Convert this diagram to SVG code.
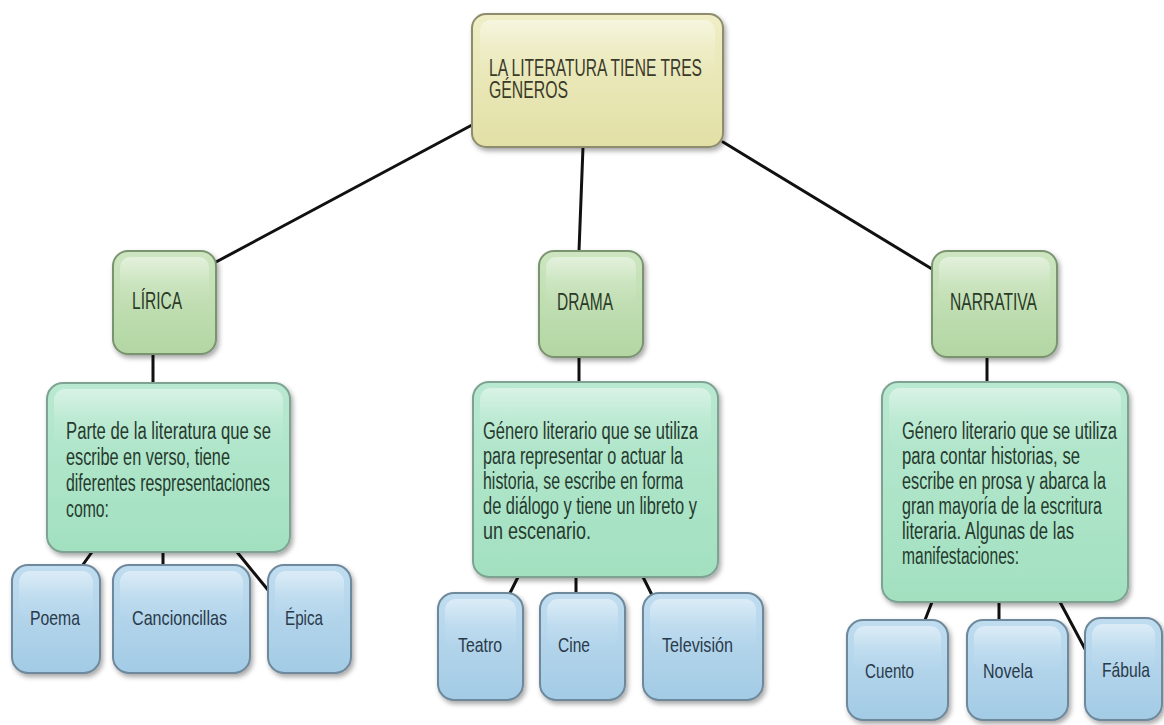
<svg xmlns="http://www.w3.org/2000/svg" width="1164" height="725" viewBox="0 0 1164 725">
<defs>
<filter id="sh" x="-10%" y="-10%" width="125%" height="125%">
<feDropShadow dx="2" dy="3" stdDeviation="2.5" flood-color="#000" flood-opacity="0.35"/>
</filter>
<linearGradient id="gTop" x1="0" y1="0" x2="0" y2="1"><stop offset="0" stop-color="#efeec6"/><stop offset="1" stop-color="#e2e0a6"/></linearGradient>
<linearGradient id="gL2" x1="0" y1="0" x2="0" y2="1"><stop offset="0" stop-color="#cde6c1"/><stop offset="1" stop-color="#b3d6a3"/></linearGradient>
<linearGradient id="gDesc" x1="0" y1="0" x2="0" y2="1"><stop offset="0" stop-color="#b9e9d1"/><stop offset="1" stop-color="#a2e0c0"/></linearGradient>
<linearGradient id="gLeaf" x1="0" y1="0" x2="0" y2="1"><stop offset="0" stop-color="#c0ddf0"/><stop offset="1" stop-color="#a3cbe5"/></linearGradient>
<linearGradient id="hl" x1="0" y1="0" x2="0" y2="1"><stop offset="0" stop-color="#fff" stop-opacity="0.45"/><stop offset="0.5" stop-color="#fff" stop-opacity="0.12"/><stop offset="1" stop-color="#fff" stop-opacity="0"/></linearGradient>
</defs>
<style>
.top{fill:url(#gTop);stroke:#8e8c6c;stroke-width:2;filter:url(#sh)}
.l2{fill:url(#gL2);stroke:#7a9470;stroke-width:2;filter:url(#sh)}
.desc{fill:url(#gDesc);stroke:#7ea392;stroke-width:2;filter:url(#sh)}
.leaf{fill:url(#gLeaf);stroke:#6e889c;stroke-width:2;filter:url(#sh)}
.hl{fill:url(#hl);stroke:none}
text{font-family:"Liberation Sans Narrow","Liberation Sans",Arial,sans-serif}
.tt{font-size:23px;fill:#3a3a2a}
.t2{font-size:24px;fill:#2a3a28}
.td{font-size:23px;fill:#263a2e}
.tl{font-size:21px;fill:#2a3a4a}
.c{stroke:#111;stroke-width:3;fill:none;stroke-linecap:round}
</style>
<g id="connectors">
<line class="c" x1="472" y1="125" x2="216" y2="262"/>
<line class="c" x1="583" y1="147" x2="579" y2="251"/>
<line class="c" x1="723" y1="142" x2="932" y2="269"/>
<line class="c" x1="153" y1="354" x2="153" y2="383"/>
<line class="c" x1="579" y1="356" x2="579" y2="382"/>
<line class="c" x1="987" y1="356" x2="987" y2="382"/>
<line class="c" x1="92" y1="552" x2="82" y2="566"/>
<line class="c" x1="163" y1="552" x2="163" y2="566"/>
<line class="c" x1="237" y1="552" x2="268" y2="590"/>
<line class="c" x1="518" y1="577" x2="510" y2="593"/>
<line class="c" x1="576" y1="577" x2="576" y2="593"/>
<line class="c" x1="643" y1="577" x2="652" y2="595"/>
<line class="c" x1="932" y1="602" x2="925" y2="620"/>
<line class="c" x1="999" y1="602" x2="999" y2="620"/>
<line class="c" x1="1060" y1="602" x2="1085" y2="649"/>
</g>
<g id="n-top">
<rect class="top" x="472" y="14" width="251" height="133" rx="14"/>
<rect class="hl" x="480" y="20" width="235" height="60" rx="10"/>
<text class="tt" x="489" y="76" textLength="213" lengthAdjust="spacingAndGlyphs">LA LITERATURA TIENE TRES</text>
<text class="tt" x="489" y="98" textLength="79" lengthAdjust="spacingAndGlyphs">GÉNEROS</text>
</g>
<g id="n-lirica">
<rect class="l2" x="113" y="251" width="103" height="103" rx="15"/>
<rect class="hl" x="120" y="257" width="89" height="50" rx="10"/>
<text class="t2" x="132" y="309" textLength="50" lengthAdjust="spacingAndGlyphs">LÍRICA</text>
</g>
<g id="n-drama">
<rect class="l2" x="539" y="251" width="104" height="106" rx="15"/>
<rect class="hl" x="546" y="257" width="90" height="50" rx="10"/>
<text class="t2" x="557" y="310" textLength="56" lengthAdjust="spacingAndGlyphs">DRAMA</text>
</g>
<g id="n-narrativa">
<rect class="l2" x="932" y="251" width="125" height="106" rx="15"/>
<rect class="hl" x="939" y="257" width="111" height="50" rx="10"/>
<text class="t2" x="950" y="310" textLength="87" lengthAdjust="spacingAndGlyphs">NARRATIVA</text>
</g>
<g id="n-lirica-desc">
<rect class="desc" x="47" y="383" width="243" height="169" rx="16"/>
<rect class="hl" x="54" y="389" width="229" height="60" rx="11"/>
<text class="td" x="66" y="439" textLength="205" lengthAdjust="spacingAndGlyphs">Parte de la literatura que se</text>
<text class="td" x="66" y="465" textLength="164" lengthAdjust="spacingAndGlyphs">escribe en verso, tiene</text>
<text class="td" x="66" y="491" textLength="204" lengthAdjust="spacingAndGlyphs">diferentes respresentaciones</text>
<text class="td" x="66" y="517" textLength="43" lengthAdjust="spacingAndGlyphs">como:</text>
</g>
<g id="n-drama-desc">
<rect class="desc" x="473" y="382" width="245" height="195" rx="16"/>
<rect class="hl" x="480" y="388" width="231" height="60" rx="11"/>
<text class="td" x="483" y="439" textLength="215" lengthAdjust="spacingAndGlyphs">Género literario que se utiliza</text>
<text class="td" x="483" y="464" textLength="200" lengthAdjust="spacingAndGlyphs">para representar o actuar la</text>
<text class="td" x="483" y="489" textLength="200" lengthAdjust="spacingAndGlyphs">historia, se escribe en forma</text>
<text class="td" x="483" y="514" textLength="214" lengthAdjust="spacingAndGlyphs">de diálogo y tiene un libreto y</text>
<text class="td" x="483" y="539" textLength="108" lengthAdjust="spacingAndGlyphs">un escenario.</text>
</g>
<g id="n-narrativa-desc">
<rect class="desc" x="882" y="382" width="246" height="220" rx="16"/>
<rect class="hl" x="889" y="388" width="232" height="60" rx="11"/>
<text class="td" x="902" y="439" textLength="215" lengthAdjust="spacingAndGlyphs">Género literario que se utiliza</text>
<text class="td" x="902" y="464" textLength="178" lengthAdjust="spacingAndGlyphs">para contar historias, se</text>
<text class="td" x="902" y="489" textLength="204" lengthAdjust="spacingAndGlyphs">escribe en prosa y abarca la</text>
<text class="td" x="902" y="514" textLength="200" lengthAdjust="spacingAndGlyphs">gran mayoría de la escritura</text>
<text class="td" x="902" y="539" textLength="172" lengthAdjust="spacingAndGlyphs">literaria. Algunas de las</text>
<text class="td" x="902" y="564" textLength="117" lengthAdjust="spacingAndGlyphs">manifestaciones:</text>
</g>
<g id="n-poema">
<rect class="leaf" x="12" y="565" width="88" height="108" rx="16"/>
<rect class="hl" x="19" y="571" width="74" height="50" rx="11"/>
<text class="tl" x="30" y="625" textLength="50" lengthAdjust="spacingAndGlyphs">Poema</text>
</g>
<g id="n-cancioncillas">
<rect class="leaf" x="113" y="565" width="137" height="108" rx="16"/>
<rect class="hl" x="120" y="571" width="123" height="50" rx="11"/>
<text class="tl" x="132" y="625" textLength="95" lengthAdjust="spacingAndGlyphs">Cancioncillas</text>
</g>
<g id="n-epica">
<rect class="leaf" x="268" y="565" width="83" height="108" rx="16"/>
<rect class="hl" x="275" y="571" width="69" height="50" rx="11"/>
<text class="tl" x="285" y="625" textLength="38" lengthAdjust="spacingAndGlyphs">Épica</text>
</g>
<g id="n-teatro">
<rect class="leaf" x="438" y="593" width="85" height="107" rx="16"/>
<rect class="hl" x="445" y="599" width="71" height="50" rx="11"/>
<text class="tl" x="458" y="652" textLength="44" lengthAdjust="spacingAndGlyphs">Teatro</text>
</g>
<g id="n-cine">
<rect class="leaf" x="540" y="593" width="85" height="107" rx="16"/>
<rect class="hl" x="547" y="599" width="71" height="50" rx="11"/>
<text class="tl" x="558" y="652" textLength="32" lengthAdjust="spacingAndGlyphs">Cine</text>
</g>
<g id="n-television">
<rect class="leaf" x="643" y="593" width="120" height="107" rx="16"/>
<rect class="hl" x="650" y="599" width="106" height="50" rx="11"/>
<text class="tl" x="662" y="652" textLength="71" lengthAdjust="spacingAndGlyphs">Televisión</text>
</g>
<g id="n-cuento">
<rect class="leaf" x="847" y="620" width="101" height="100" rx="16"/>
<rect class="hl" x="854" y="626" width="87" height="46" rx="11"/>
<text class="tl" x="865" y="678" textLength="49" lengthAdjust="spacingAndGlyphs">Cuento</text>
</g>
<g id="n-novela">
<rect class="leaf" x="967" y="620" width="101" height="100" rx="16"/>
<rect class="hl" x="974" y="626" width="87" height="46" rx="11"/>
<text class="tl" x="983" y="678" textLength="50" lengthAdjust="spacingAndGlyphs">Novela</text>
</g>
<g id="n-fabula">
<rect class="leaf" x="1085" y="618" width="77" height="102" rx="16"/>
<rect class="hl" x="1092" y="624" width="63" height="46" rx="11"/>
<text class="tl" x="1102" y="677" textLength="48" lengthAdjust="spacingAndGlyphs">Fábula</text>
</g>
</svg>
